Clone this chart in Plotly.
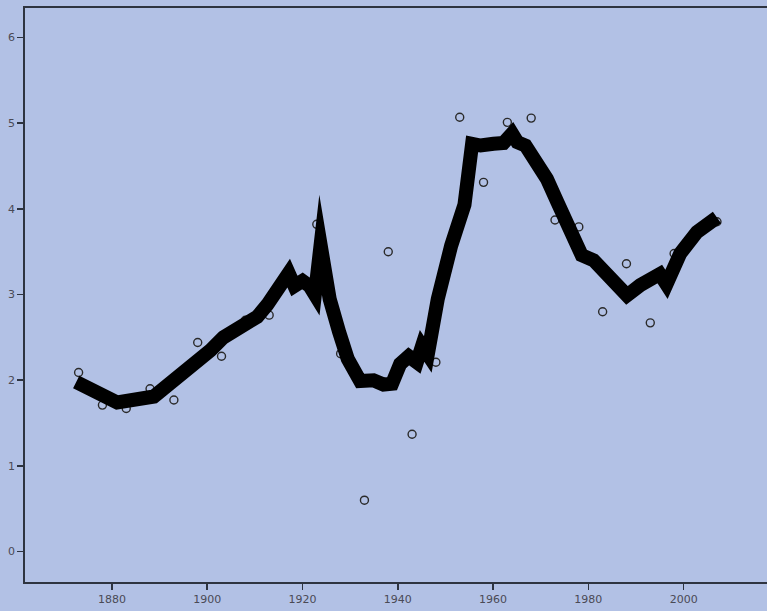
import plotly.graph_objects as go

# Observed 5-year values (open circles)
point_years = [1873, 1878, 1883, 1888, 1893, 1898, 1903, 1908, 1913, 1918,
               1923, 1928, 1933, 1938, 1943, 1948, 1953, 1958, 1963, 1968,
               1973, 1978, 1983, 1988, 1993, 1998, 2003, 2007]
point_values = [2.09, 1.71, 1.67, 1.90, 1.77, 2.44, 2.28, 2.70, 2.76, 3.15,
                3.82, 2.31, 0.60, 3.50, 1.37, 2.21, 5.07, 4.31, 5.01, 5.06,
                3.87, 3.79, 2.80, 3.36, 2.67, 3.48, 3.72, 3.85]

# Thick trend line
trend_years = [1872.5, 1881.1, 1888.8, 1896.5, 1900.7, 1903.4, 1907.0, 1910.5,
               1912.6, 1915.4, 1917.1, 1918.3, 1920.0, 1921.5, 1922.6, 1923.8,
               1925.7, 1927.7, 1929.5, 1932.1, 1934.9, 1937.0, 1938.8, 1940.5,
               1942.3, 1944.0, 1945.1, 1946.3, 1948.4, 1951.2, 1954.0, 1955.6,
               1957.4, 1960.1, 1962.2, 1964.0, 1965.1, 1966.8, 1969.2, 1971.3,
               1973.5, 1976.2, 1978.6, 1981.1, 1983.9, 1986.3, 1988.1, 1990.9,
               1993.7, 1995.0, 1996.4, 1999.3, 2002.8, 2006.3, 2007.0]
trend_values = [1.98, 1.74, 1.81, 2.14, 2.35, 2.50, 2.63, 2.74,
                2.88, 3.12, 3.25, 3.10, 3.16, 3.10, 3.00, 3.58,
                2.95, 2.56, 2.25, 1.99, 2.00, 1.95, 1.96, 2.19,
                2.28, 2.21, 2.40, 2.30, 2.95, 3.57, 4.05, 4.76,
                4.74, 4.76, 4.77, 4.88, 4.78, 4.74, 4.53, 4.35,
                4.08, 3.75, 3.46, 3.40, 3.22, 3.07, 2.99, 3.11,
                3.17, 3.24, 3.12, 3.48, 3.73, 3.87, 3.90]

x_ticks = [1880, 1900, 1920, 1940, 1960, 1980, 2000]
y_ticks = [0, 1, 2, 3, 4, 5, 6]

BG = "#B2C1E5"
AXIS = "#2E3440"

fig = go.Figure()
fig.add_trace(go.Scatter(
    x=point_years, y=point_values, mode="markers",
    marker=dict(symbol="circle-open", size=8, color="#2A2A2A",
                line=dict(width=1.4, color="#2A2A2A")),
    showlegend=False, hoverinfo="skip"))
fig.add_trace(go.Scatter(
    x=trend_years, y=trend_values, mode="lines",
    line=dict(color="black", width=14),
    showlegend=False, hoverinfo="skip"))

fig.update_layout(
    width=767, height=611,
    margin=dict(l=25, r=0, t=8, b=29, pad=0),
    paper_bgcolor=BG, plot_bgcolor=BG,
    font=dict(family="DejaVu Sans", size=11, color="#4A4A55"),
)
fig.update_xaxes(range=[1861.75, 2017.5], tickvals=x_ticks,
                 ticktext=[str(t) for t in x_ticks], automargin=False,
                 showgrid=False, zeroline=False, showline=True,
                 linecolor=AXIS, linewidth=1.8, mirror=True,
                 ticks="outside", ticklen=6, tickwidth=1.5, tickcolor=AXIS)
fig.update_yaxes(range=[-0.355, 6.345], tickvals=y_ticks, automargin=False,
                 showgrid=False, zeroline=False, showline=True,
                 linecolor=AXIS, linewidth=1.8,
                 ticks="outside", ticklen=6, tickwidth=1.5, tickcolor=AXIS)

post = (
    "document.body.style.margin='0';"
    "document.querySelectorAll('.scatterlayer path.js-line').forEach("
    "function(p){p.style.strokeMiterlimit='30';});"
)
fig.write_html("out.html", post_script=post,
               config={"displayModeBar": False, "staticPlot": True})
